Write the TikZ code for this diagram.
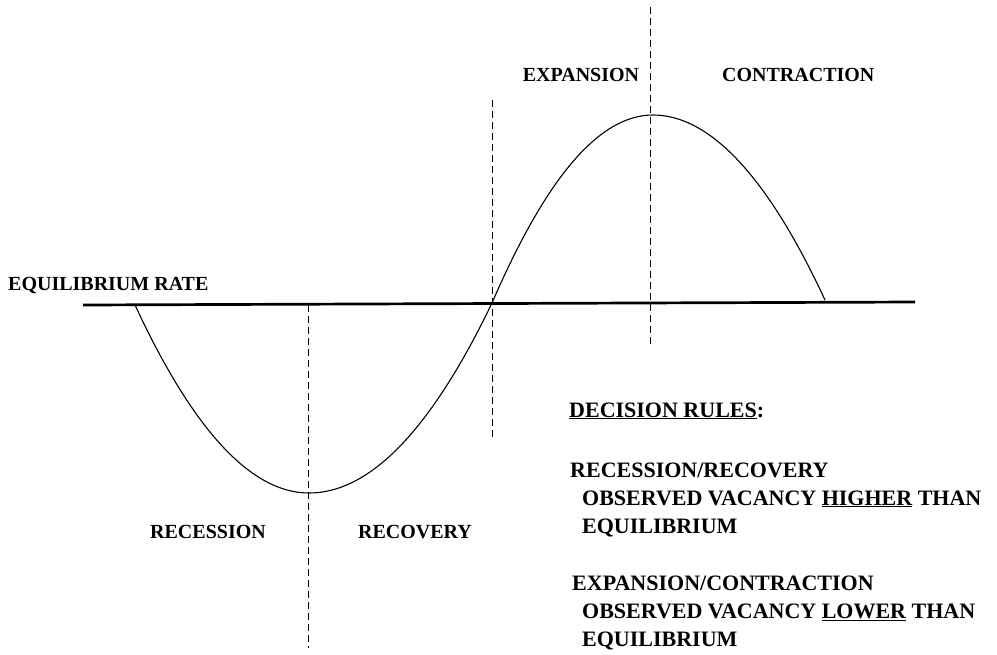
\documentclass[tikz,border=0pt]{standalone}
\usepackage{fontspec}
\setmainfont{Liberation Serif}
\tikzset{
	phase/.style={font=\fontsize{20}{24}\selectfont\bfseries, inner sep=0pt, anchor=base},
	rule/.style={font=\fontsize{22}{26}\selectfont\bfseries, inner sep=0pt, anchor=base west},
	divider/.style={dash pattern=on 7pt off 4pt, line width=.8pt}
}
\begin{document}
\begin{tikzpicture}[x=1pt, y=-1pt]
	\useasboundingbox (0,0) rectangle (997,654);
	\coordinate (eqL) at (83,305);
	\coordinate (eqR) at (915,302);
	\coordinate (start) at (135,305);
	\coordinate (trough) at (309,493);
	\coordinate (cross) at (492,303);
	\coordinate (peak) at (653,115);
	\coordinate (stop) at (825,300);
	\draw[line width=2.7pt] (eqL) -- (eqR);
	\draw[line width=1.1pt] (start) .. controls (193,430) and (251,493) .. (trough)
		.. controls (370,493) and (431,430) .. (cross)
		.. controls (546,178) and (599,115) .. (peak)
		.. controls (710,115) and (768,177) .. (stop);
	\foreach \x/\a/\b in {308/305/648, 492/100/440, 650/7/348} {
		\draw[divider] (\x,\a) -- (\x,\b);
	}
	\node[phase, anchor=base west] (eqrate) at (8,290) {EQUILIBRIUM RATE};
	\node[phase] (expansion) at (581,81) {EXPANSION};
	\node[phase, anchor=base west] (contraction) at (722,81) {CONTRACTION};
	\node[phase] (recession) at (208,538) {RECESSION};
	\node[phase] (recovery) at (415,538) {RECOVERY};
	\node[rule] (rules) at (569,417) {\underline{DECISION RULES}:};
	\node[rule] (recrule) at (570,477) {RECESSION/RECOVERY};
	\node[rule] (recobs) at (582,505) {OBSERVED VACANCY \underline{HIGHER} THAN};
	\node[rule] (receq) at (582,533) {EQUILIBRIUM};
	\node[rule] (exprule) at (572,590) {EXPANSION/CONTRACTION};
	\node[rule] (expobs) at (582,618) {OBSERVED VACANCY \underline{LOWER} THAN};
	\node[rule] (expeq) at (582,646) {EQUILIBRIUM};
\end{tikzpicture}
\end{document}
